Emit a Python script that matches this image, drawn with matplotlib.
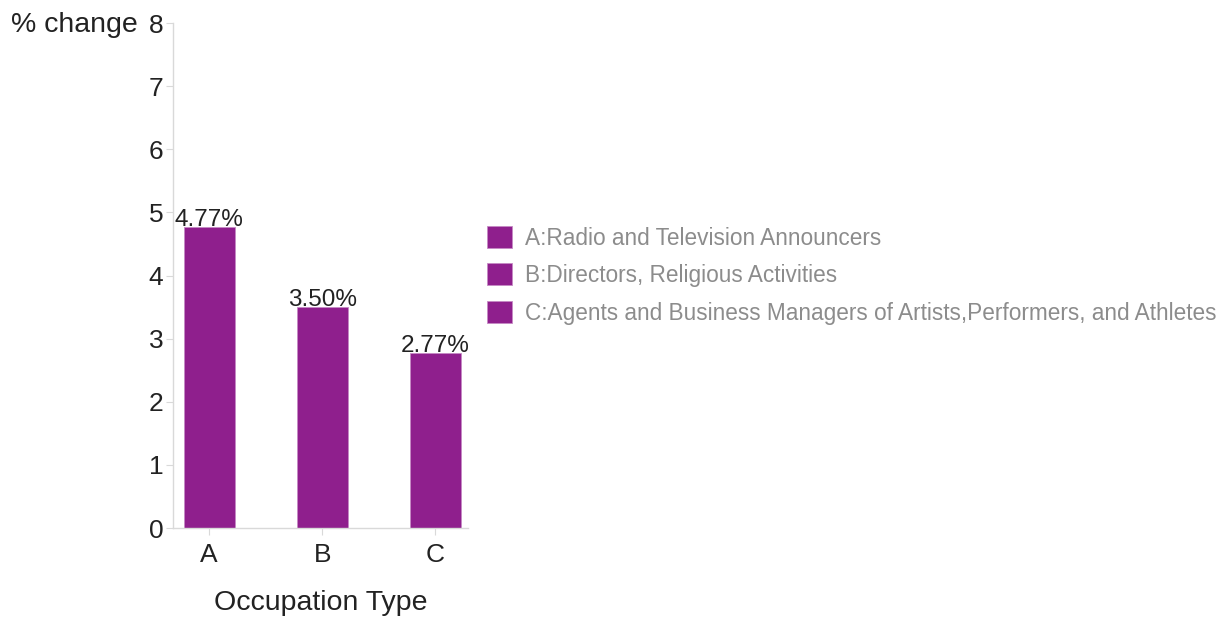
import matplotlib
matplotlib.use("Agg")
import matplotlib.pyplot as plt
from matplotlib.patches import Patch

plt.rcParams['font.family'] = ['Liberation Sans', 'DejaVu Sans']

categories = ["A", "B", "C"]
values = [4.77, 3.50, 2.77]
value_labels = ["4.77%", "3.50%", "2.77%"]
legend_labels = [
    "A:Radio and Television Announcers",
    "B:Directors, Religious Activities",
    "C:Agents and Business Managers of Artists,Performers, and Athletes",
]
y_ticks = [0, 1, 2, 3, 4, 5, 6, 7, 8]

bar_color = "#8f1f8d"
edge_color = "#c58ac4"
spine_color = "#d9d9d9"
text_color = "#222222"

fig = plt.figure(figsize=(12.26, 6.17), dpi=100)
ax = fig.add_axes([0.1411, 0.1442, 0.2406, 0.8185])

x = list(range(len(categories)))
ax.bar(x, values, width=0.45, color=bar_color, edgecolor=edge_color, linewidth=0.6)

for xi, v, lab in zip(x, values, value_labels):
    ax.annotate(lab, (xi, v), xytext=(0, -3), textcoords="offset points",
                ha="center", va="bottom", fontsize=17.5, color=text_color)

ax.set_xlim(-0.32, 2.29)
ax.set_ylim(0, 8)
ax.set_xticks(x)
ax.set_xticklabels(categories, fontsize=19, color=text_color)
ax.set_yticks(y_ticks)
ax.set_yticklabels([str(t) for t in y_ticks], fontsize=19, color=text_color)
ax.tick_params(axis="both", length=5, width=0.8, color=spine_color)
ax.tick_params(axis="y", pad=2)
ax.tick_params(axis="x", pad=6)

for side in ["top", "right"]:
    ax.spines[side].set_visible(False)
for side in ["left", "bottom"]:
    ax.spines[side].set_color(spine_color)
    ax.spines[side].set_linewidth(1.0)

ax.set_xlabel("Occupation Type", fontsize=20.5, color=text_color, labelpad=16)
fig.text(138 / 1226, 1 - 25 / 617, "% change", fontsize=20.5, color=text_color,
         ha="right", va="center")

handles = [Patch(facecolor=bar_color, edgecolor=edge_color, linewidth=0.6) for _ in legend_labels]
leg = fig.legend(handles, legend_labels, loc="upper left",
                 bbox_to_anchor=(487 / 1226, 1 - 226 / 617),
                 frameon=False, fontsize=16.25, handlelength=1.1, handleheight=1.1,
                 handletextpad=0.57, labelspacing=0.62, borderaxespad=0, borderpad=0)
for t in leg.get_texts():
    t.set_color("#8c8c8c")

fig.savefig("out.png", dpi=100)
